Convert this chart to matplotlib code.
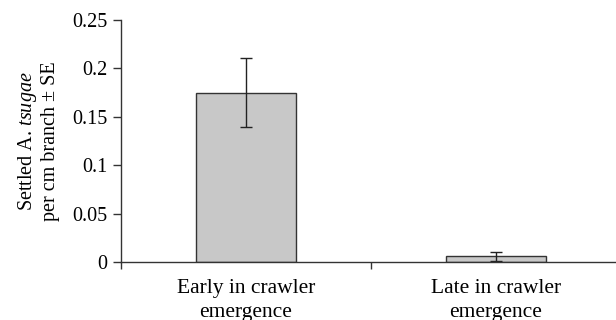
import matplotlib.pyplot as plt
from matplotlib.ticker import FixedLocator

plt.rcParams['font.family'] = ['Liberation Serif', 'DejaVu Serif']
plt.rcParams['mathtext.fontset'] = 'custom'
plt.rcParams['mathtext.rm'] = 'Liberation Serif'
plt.rcParams['mathtext.it'] = 'Liberation Serif:italic'

# data
categories = ['Early in crawler\nemergence', 'Late in crawler\nemergence']
settled = [0.175, 0.006]
se = [0.036, 0.0045]
yticks = [0, 0.05, 0.1, 0.15, 0.2, 0.25]
ytick_labels = ['0', '0.05', '0.1', '0.15', '0.2', '0.25']

fig = plt.figure(figsize=(6.16, 3.2), dpi=100)
ax = fig.add_axes([121 / 616, 1 - 262 / 320, 500 / 616, 242 / 320])

x = range(len(categories))
ax.bar(x, settled, width=0.4, color='#c8c8c8', edgecolor='#333333', linewidth=1.0)
ax.errorbar(x, settled, yerr=se, fmt='none', ecolor='#222222', elinewidth=1.0,
            capsize=4, capthick=1.0)

ax.set_xlim(-0.5, 1.5)
ax.set_ylim(0, 0.25)
ax.set_yticks(yticks)
ax.set_yticklabels(ytick_labels)
ax.set_xticks(list(x))
ax.set_xticklabels(categories, linespacing=1.35)
ax.xaxis.set_minor_locator(FixedLocator([-0.5, 0.5, 1.5]))
ax.tick_params(axis='x', which='major', length=0, pad=12, labelsize=15.5)
ax.tick_params(axis='x', which='minor', length=5, direction='out', width=1, color='#333333')
ax.tick_params(axis='y', length=6, width=1, direction='out', pad=4, labelsize=14.5, color='#333333')

for side in ['top', 'right']:
    ax.spines[side].set_visible(False)
for side in ['left', 'bottom']:
    ax.spines[side].set_color('#333333')
    ax.spines[side].set_linewidth(1.0)
    ax.spines[side].set_clip_on(False)

ax.set_ylabel('Settled A. $\\mathit{tsugae}$\nper cm branch \u00b1 SE',
              fontsize=14.5, labelpad=8.5, linespacing=1.15)

fig.savefig('out.png', dpi=100)
